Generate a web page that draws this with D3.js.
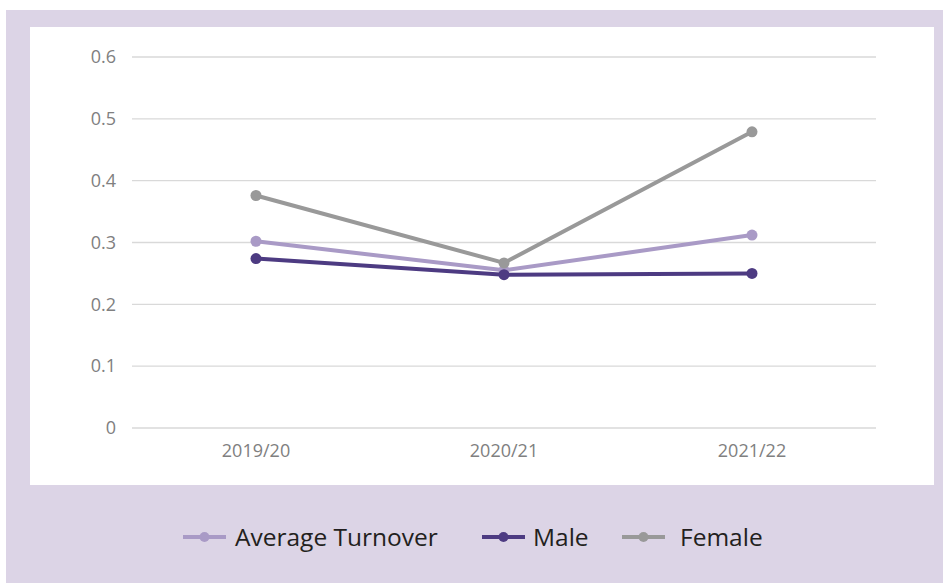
<!DOCTYPE html>
<html>
<head>
<meta charset="utf-8">
<script src="https://cdn.jsdelivr.net/npm/d3@7"></script>
<style>
	body { margin: 0; background: #fff; }
	svg { display: block; font-family: 'Open Sans', sans-serif; }
</style>
</head>
<body>
<svg></svg>
<script>
'use strict'

const years = ['2019/20', '2020/21', '2021/22']
const averageTurnover = [0.302, 0.255, 0.312]
const male = [0.274, 0.248, 0.250]
const female = [0.376, 0.267, 0.479]
const yTicks = [0, 0.1, 0.2, 0.3, 0.4, 0.5, 0.6]

const series = [
	{ name: 'Average Turnover', values: averageTurnover, color: '#a99ac6' },
	{ name: 'Male', values: male, color: '#4d3b82' },
	{ name: 'Female', values: female, color: '#999999' }
]

let width = 943,
	height = 583

let svg = d3.select('svg')
	.attr('width', width)
	.attr('height', height)

// purple frame and white plot panel
svg.append('rect')
	.attr('x', 6).attr('y', 10)
	.attr('width', width - 6).attr('height', height - 10)
	.attr('fill', '#dcd4e6')

svg.append('rect')
	.attr('x', 30).attr('y', 27)
	.attr('width', 904).attr('height', 458)
	.attr('fill', '#ffffff')

let x = d3.scaleBand()
	.domain(years)
	.range([132, 876])

let y = d3.scaleLinear()
	.domain([0, 0.6])
	.range([428, 57])

// grid
svg.append('g')
	.selectAll('line')
	.data(yTicks)
	.enter().append('line')
	.attr('x1', 132)
	.attr('x2', 876)
	.attr('y1', function(d) { return y(d) })
	.attr('y2', function(d) { return y(d) })
	.attr('stroke', '#d9d9d9')
	.attr('stroke-width', 1.3)

let yAxis = svg.append('g')
	.attr('transform', 'translate(132,0)')
	.call(d3.axisLeft(y).tickValues(yTicks).tickSize(0).tickPadding(16)
		.tickFormat(function(d) { return d === 0 ? '0' : d3.format('.1f')(d) }))
yAxis.select('.domain').remove()
yAxis.selectAll('text')
	.attr('fill', '#808080')
	.style('font-size', '18px')
	.style('font-family', "'Open Sans', sans-serif")

let xAxis = svg.append('g')
	.attr('transform', 'translate(0,428)')
	.call(d3.axisBottom(x).tickSize(0).tickPadding(16))
xAxis.select('.domain').remove()
xAxis.selectAll('text')
	.attr('fill', '#808080')
	.style('font-size', '18px')
	.style('font-family', "'Open Sans', sans-serif")

let line = d3.line()
	.x(function(d, i) { return x(years[i]) + x.bandwidth() / 2 })
	.y(function(d) { return y(d) })

let groups = svg.append('g')
	.selectAll('g')
	.data(series)
	.enter().append('g')

groups.append('path')
	.attr('d', function(d) { return line(d.values) })
	.attr('fill', 'none')
	.attr('stroke', function(d) { return d.color })
	.attr('stroke-width', 4)
	.attr('stroke-linejoin', 'round')

groups.selectAll('circle')
	.data(function(d) { return d.values.map(function(v, i) { return { v: v, i: i, color: d.color } }) })
	.enter().append('circle')
	.attr('cx', function(d) { return x(years[d.i]) + x.bandwidth() / 2 })
	.attr('cy', function(d) { return y(d.v) })
	.attr('r', 5.5)
	.attr('fill', function(d) { return d.color })

// legend
const legendX = [183, 482, 622]
const legendTextX = [235, 533, 680]
let legend = svg.append('g')
	.selectAll('g')
	.data(series)
	.enter().append('g')

legend.append('line')
	.attr('x1', function(d, i) { return legendX[i] })
	.attr('x2', function(d, i) { return legendX[i] + 43 })
	.attr('y1', 537).attr('y2', 537)
	.attr('stroke', function(d) { return d.color })
	.attr('stroke-width', 4)

legend.append('circle')
	.attr('cx', function(d, i) { return legendX[i] + 21.5 })
	.attr('cy', 537)
	.attr('r', 5)
	.attr('fill', function(d) { return d.color })

legend.append('text')
	.attr('x', function(d, i) { return legendTextX[i] })
	.attr('y', 537)
	.attr('dy', '0.35em')
	.attr('fill', '#231f20')
	.style('font-size', '24.5px')
	.text(function(d) { return d.name })
</script>
</body>
</html>
